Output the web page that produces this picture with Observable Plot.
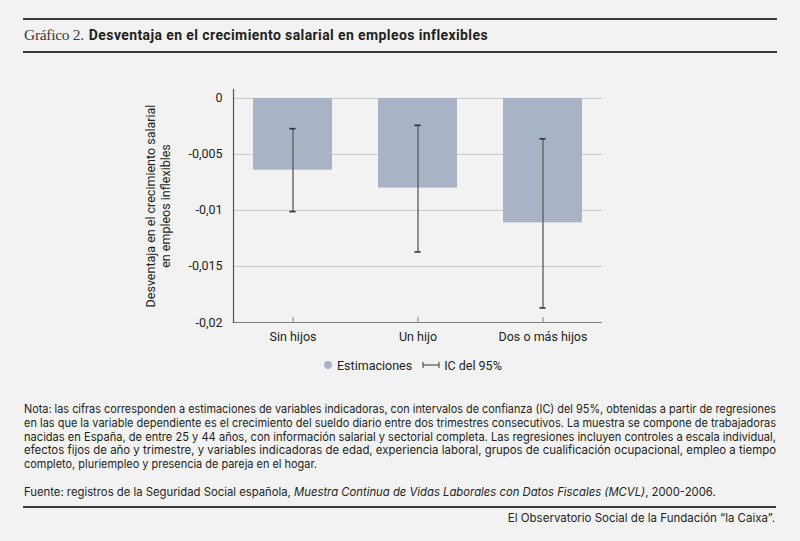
<!DOCTYPE html>
<html><head><meta charset="utf-8">
<script src="https://cdn.jsdelivr.net/npm/d3@7"></script>
<script src="https://cdn.jsdelivr.net/npm/@observablehq/plot@0.6"></script>
<style>
html,body{margin:0;padding:0;background:#f2f2f2;}
#page{position:relative;width:800px;height:541px;overflow:hidden;font-family:Inter,Roboto,"Liberation Sans",sans-serif;color:#231f20;background:#f2f2f2;}
.rule{position:absolute;left:23px;width:754px;height:2px;background:#3c3a3a;}
#title{position:absolute;left:24px;top:25px;white-space:nowrap;line-height:18px;}
#title .num{font-family:"Liberation Serif","DejaVu Serif",serif;font-size:15.5px;color:#3a3a3a;letter-spacing:-0.3px;}
#title .main{display:inline-block;font-family:Roboto,sans-serif;font-weight:700;font-size:14px;color:#231f20;margin-left:5px;}
#chart{position:absolute;left:0;top:60px;}
#legend{position:absolute;left:323px;top:357px;height:16px;display:flex;align-items:center;font-family:Roboto,sans-serif;font-size:12.5px;white-space:nowrap;}
#legend span{margin-left:4px;}
.note{position:absolute;left:24px;font-size:11.5px;line-height:12px;white-space:nowrap;}
.note span{display:inline-block;transform-origin:0 50%;}
#fuente{position:absolute;left:24px;top:486px;font-size:11.3px;line-height:13px;white-space:nowrap;}
#footer{position:absolute;right:25px;top:511.5px;font-size:11.5px;line-height:13px;white-space:nowrap;}
</style></head>
<body>
<div id="page">
  <div class="rule" style="top:18px"></div>
  <div id="title"><span class="num">Gráfico 2.</span><span class="main" id="tmain">Desventaja en el crecimiento salarial en empleos inflexibles</span></div>
  <div class="rule" style="top:51px"></div>
  <div id="chart"></div>
  <div id="legend"></div>
  <div id="notes"></div>
  <div id="fuente">Fuente: registros de la Seguridad Social española, <i>Muestra Continua de Vidas Laborales con Datos Fiscales (MCVL)</i>, 2000-2006.</div>
  <div class="rule" style="top:505.5px;width:753px"></div>
  <div id="footer">El Observatorio Social de la Fundación “la Caixa”.</div>
</div>
<script>
const categories = ["Sin hijos", "Un hijo", "Dos o más hijos"];
const estimates = [-0.0064, -0.0080, -0.0111];
const ciLow = [-0.0101, -0.0137, -0.0187];
const ciHigh = [-0.0027, -0.0024, -0.0036];
const yTicks = [0, -0.005, -0.01, -0.015, -0.02];
const yLabel = "Desventaja en el crecimiento salarial\nen empleos inflexibles";
const legendLabels = ["Estimaciones", "IC del 95%"];
const noteLines = [
  "Nota: las cifras corresponden a estimaciones de variables indicadoras, con intervalos de confianza (IC) del 95%, obtenidas a partir de regresiones",
  "en las que la variable dependiente es el crecimiento del sueldo diario entre dos trimestres consecutivos. La muestra se compone de trabajadoras",
  "nacidas en España, de entre 25 y 44 años, con información salarial y sectorial completa. Las regresiones incluyen controles a escala individual,",
  "efectos fijos de año y trimestre, y variables indicadoras de edad, experiencia laboral, grupos de cualificación ocupacional, empleo a tiempo",
  "completo, pluriempleo y presencia de pareja en el hogar."
];
const noteWidths = [752, 752, 752, 752, 293];

const barColor = "#a9b3c6";
const data = categories.map((c, i) => ({cat: c, est: estimates[i], lo: ciLow[i], hi: ciHigh[i]}));

const capInset = 36.4;
const chart = Plot.plot({
  width: 800, height: 330,
  marginLeft: 233, marginRight: 198, marginTop: 29, marginBottom: 68,
  style: {background: "transparent", fontFamily: "Roboto, sans-serif", fontSize: "12.5px", color: "#231f20", overflow: "visible"},
  x: {domain: categories, paddingInner: 0.37, paddingOuter: 0.16},
  y: {domain: [-0.02, 0.0008]},
  marks: [
    Plot.gridY(yTicks.slice(0, 4), {stroke: "#c9c9c9", strokeOpacity: 1}),
    Plot.barY(data, {x: "cat", y1: 0, y2: "est", fill: barColor}),
    Plot.ruleX(data, {x: "cat", y1: "lo", y2: "hi", stroke: "#5a5a5a", strokeWidth: 1.3}),
    Plot.tickY(data, {x: "cat", y: "lo", stroke: "#333", strokeWidth: 1.6, insetLeft: capInset, insetRight: capInset}),
    Plot.tickY(data, {x: "cat", y: "hi", stroke: "#333", strokeWidth: 1.6, insetLeft: capInset, insetRight: capInset}),
    Plot.ruleY([-0.02], {stroke: "#7d7d7d", strokeWidth: 1.2}),
    Plot.frame({anchor: "left", stroke: "#555", strokeWidth: 1.2}),
    Plot.tickX(categories, {x: d => d, insetTop: 228, stroke: "#7d7d7d"}),
    Plot.axisX({tickSize: 0, tickPadding: 10, label: null, fill: "#231f20"}),
    Plot.axisY(yTicks, {tickSize: 0, tickPadding: 11, label: null, tickFormat: d => String(d).replace(".", ","), fill: "#231f20"}),
    Plot.text([yLabel], {frameAnchor: "left", textAnchor: "middle", rotate: -90, dx: -76, text: d => d, lineHeight: 1.22, fontSize: 12.5, fill: "#231f20"})
  ]
});
document.getElementById("chart").appendChild(chart);

// title fit
const tmain = document.getElementById("tmain");
const tw = tmain.getBoundingClientRect().width;
const tlen = tmain.textContent.length;
tmain.style.letterSpacing = ((399 - tw) / tlen) + "px";

// legend
const legend = document.getElementById("legend");
legend.innerHTML =
  `<svg width="10" height="10"><circle cx="5" cy="5" r="4" fill="${barColor}"/></svg>` +
  `<span>${legendLabels[0]}</span>` +
  `<svg width="18" height="10" style="margin-left:10px"><line x1="1" y1="5" x2="17" y2="5" stroke="#555" stroke-width="1.2"/><line x1="1" y1="2" x2="1" y2="8" stroke="#555" stroke-width="1.2"/><line x1="17" y1="2" x2="17" y2="8" stroke="#555" stroke-width="1.2"/></svg>` +
  `<span>${legendLabels[1]}</span>`;

// notes
const notes = document.getElementById("notes");
const noteTops = [403.3, 417, 430.7, 444.4, 458.1];
noteLines.forEach((t, i) => {
  const d = document.createElement("div");
  d.className = "note";
  d.style.top = noteTops[i] + "px";
  const s = document.createElement("span");
  s.textContent = t;
  d.appendChild(s);
  notes.appendChild(d);
  const w = s.getBoundingClientRect().width;
  s.style.transform = `scaleX(${noteWidths[i] / w})`;
});
</script>
</body></html>
